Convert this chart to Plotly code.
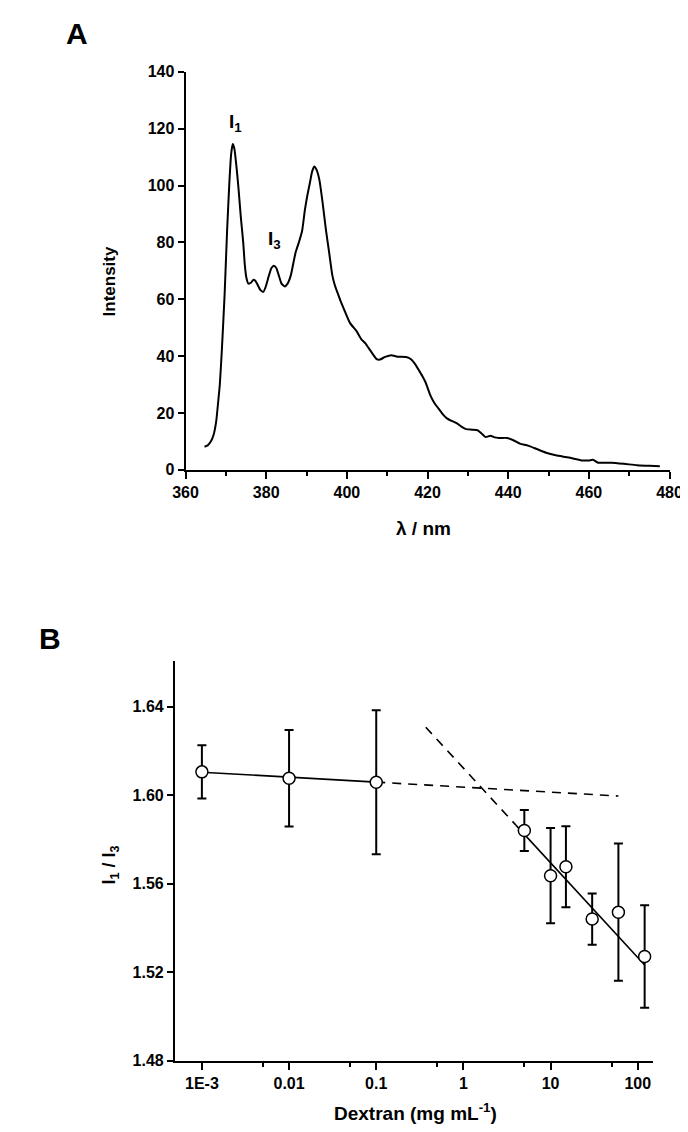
import numpy as np
import plotly.graph_objects as go

# ---------------- Panel A: emission spectrum ----------------
wavelength_nm = [364.7, 365.5, 366.3, 367.0, 367.6, 368.1, 368.5, 369.0, 369.7, 370.3,
                 370.9, 371.3, 371.7, 372.1, 372.6, 373.1, 373.7, 374.3, 374.7, 375.1,
                 375.6, 376.2, 376.8, 377.3, 377.9, 378.6, 379.3, 379.9, 380.6, 381.3,
                 381.9, 382.5, 383.1, 383.8, 384.6, 385.3, 386.1, 386.7, 387.3, 388.1,
                 388.9, 389.6, 390.2, 390.8, 391.4, 391.9, 392.5, 393.2, 394.0, 394.8,
                 395.6, 396.4, 397.0, 397.6, 398.4, 399.2, 400.8, 402.4, 403.6, 404.6,
                 405.8, 407.4, 408.2, 409.5, 411.0, 412.5,
                 414.7, 415.9, 417.0, 417.9, 418.7, 419.5, 420.7, 421.7, 422.7, 423.8,
                 424.8, 426.0, 427.2, 428.4, 429.6, 431.0, 432.4, 433.4, 434.4, 435.6,
                 436.6, 437.7, 439.7, 441.3, 442.9, 444.9, 446.9, 449.4, 451.8, 455.0,
                 458.2, 460.0, 461.0, 462.3, 465.5, 468.7, 471.9, 475.0, 477.6]
intensity = [8.1, 8.6, 10.0, 12.5, 17.0, 24.0, 30.0, 42.0, 62.0, 84.0,
             102.0, 111.0, 114.6, 113.0, 107.0, 99.5, 89.0, 80.0, 72.0, 67.5,
             65.5, 65.8, 66.8, 66.5, 65.0, 63.2, 62.6, 64.5, 68.0, 71.0,
             71.8, 71.0, 68.5, 65.5, 64.5, 65.5, 68.4, 72.5, 76.5, 80.0,
             84.0, 91.5, 96.5, 100.7, 105.0, 106.7, 105.5, 101.9, 93.8, 84.5,
             76.5, 68.4, 65.0, 62.6, 59.5, 56.8, 51.6, 48.8, 45.9, 44.5,
             42.0, 38.9, 38.8, 39.7, 40.3, 39.8,
             39.7, 38.9, 37.0, 34.9, 33.0, 30.8, 26.2, 23.5, 21.6, 19.5,
             18.1, 17.2, 16.4, 15.2, 14.3, 14.1, 13.9, 12.8, 11.5, 12.0,
             11.4, 11.2, 11.2, 10.4, 9.2, 8.5, 7.4, 6.0, 5.1, 4.3,
             3.3, 3.3, 3.5, 2.5, 2.5, 2.1, 1.6, 1.4, 1.2]
a_xticks = [360, 380, 400, 420, 440, 460, 480]
a_yticks = [0, 20, 40, 60, 80, 100, 120, 140]

# ---------------- Panel B: I1/I3 vs dextran ----------------
dextran = [0.001, 0.01, 0.1, 5, 10, 15, 30, 60, 120]
ratio = [1.6105, 1.6076, 1.6058, 1.5840, 1.5636, 1.5676, 1.5440, 1.5471, 1.5271]
ratio_err = [0.0120, 0.0218, 0.0325, 0.0093, 0.0215, 0.0183, 0.0116, 0.0310, 0.0231]

# fitted lines y = intercept + slope*log10(x)
fit1_intercept, fit1_slope = 1.6036, -0.00225
fit2_intercept, fit2_slope = 1.6122, -0.04276
fit1_solid_x = [0.001, 0.1]
fit1_dash_x = [0.1, 60]
fit2_dash_x = [0.37, 4.0]
fit2_solid_x = [4.0, 120]

b_xtickvals = [0.001, 0.01, 0.1, 1, 10, 100]
b_xticktext = ["1E-3", "0.01", "0.1", "1", "10", "100"]
b_xminor = [0.005, 0.05, 0.5, 5, 50]
b_yticks = [1.48, 1.52, 1.56, 1.60, 1.64]
b_yticktext = ["1.48", "1.52", "1.56", "1.60", "1.64"]


def fit(x, a, b):
    x = np.asarray(x, dtype=float)
    return a + b * np.log10(x)


W, H = 688, 1132
FONT = "Liberation Sans Narrow, Liberation Sans, Arial, sans-serif"
tickfont = dict(family=FONT, size=16, color="black", weight="bold")

fig = go.Figure()

fig.add_trace(go.Scatter(x=wavelength_nm, y=intensity, mode="lines",
                         line=dict(color="black", width=2, shape="spline", smoothing=0.5),
                         xaxis="x", yaxis="y", showlegend=False))

for xs, a, b, dash in [(fit1_solid_x, fit1_intercept, fit1_slope, "solid"),
                       (fit1_dash_x, fit1_intercept, fit1_slope, "9px,7px"),
                       (fit2_dash_x, fit2_intercept, fit2_slope, "9px,7px"),
                       (fit2_solid_x, fit2_intercept, fit2_slope, "solid")]:
    fig.add_trace(go.Scatter(x=xs, y=fit(xs, a, b), mode="lines",
                             line=dict(color="black", width=1.6, dash=dash),
                             xaxis="x2", yaxis="y2", showlegend=False))

fig.add_trace(go.Scatter(x=dextran, y=ratio, mode="markers",
                         marker=dict(symbol="circle", size=12, color="white",
                                     line=dict(color="black", width=1.5)),
                         error_y=dict(type="data", array=ratio_err, visible=True,
                                      color="black", thickness=2, width=4.5),
                         xaxis="x2", yaxis="y2", showlegend=False))

axis_common = dict(showline=True, linecolor="black", linewidth=2, ticks="outside",
                   tickwidth=2, tickcolor="black", showgrid=False, zeroline=False,
                   tickfont=tickfont, mirror=False)

fig.update_layout(
    width=W, height=H, margin=dict(l=0, r=0, t=0, b=0),
    plot_bgcolor="white", paper_bgcolor="white",
    xaxis=dict(axis_common, domain=[171 / W, 674 / W], range=[360, 480], anchor="y",
               tickmode="array", tickvals=a_xticks, ticklen=7,
               minor=dict(dtick=10, tick0=360, ticklen=4, tickwidth=2, ticks="outside",
                          tickcolor="black", showgrid=False)),
    yaxis=dict(axis_common, domain=[1 - 460.7 / H, 1 - 56.7 / H], range=[0, 140], anchor="x",
               tickmode="array", tickvals=a_yticks, ticklen=6),
    xaxis2=dict(axis_common, type="log", domain=[160 / W, 657 / W], range=[-3.309, 2.177],
                anchor="y2", tickmode="array", tickvals=b_xtickvals, ticktext=b_xticktext,
                ticklen=7,
                minor=dict(tickmode="array", tickvals=b_xminor, ticklen=4, tickwidth=2,
                           ticks="outside", tickcolor="black", showgrid=False)),
    yaxis2=dict(axis_common, domain=[1 - 1060.7 / H, 1 - 655 / H], range=[1.48, 1.6605],
                anchor="x2", tickmode="array", tickvals=b_yticks, ticktext=b_yticktext,
                ticklen=6),
)

def ann(text, xpx, ypx, size, angle=0):
    fig.add_annotation(text=text, x=xpx / W, y=1 - ypx / H, xref="paper", yref="paper",
                       showarrow=False, textangle=angle, xanchor="center", yanchor="middle",
                       font=dict(family=FONT, size=size, color="black", weight="bold"))

ann("A", 58, 18, 30)
ann("B", 30, 632, 30)
ann("λ / nm", 418, 520, 19)
ann("Intensity", 92, 270, 17, -90)
ann("Dextran (mg mL<sup>-1</sup>)", 410, 1113, 19)
ann("I<sub>1</sub> / I<sub>3</sub>", 93, 862, 18, -90)

# peak labels in data coordinates of panel A
fig.add_annotation(text="I<sub>1</sub>", x=372.4, y=122.0, xref="x", yref="y", showarrow=False,
                   font=dict(family=FONT, size=19, color="black", weight="bold"))
fig.add_annotation(text="I<sub>3</sub>", x=382.0, y=81.0, xref="x", yref="y", showarrow=False,
                   font=dict(family=FONT, size=19, color="black", weight="bold"))

fig.write_html("out.html")
